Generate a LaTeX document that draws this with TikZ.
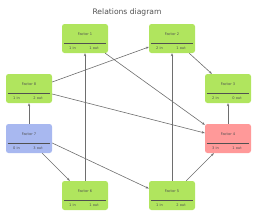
\documentclass[tikz,border=0pt]{standalone}
\usepackage{fontspec}
\setmainfont{DejaVu Sans}
\usetikzlibrary{arrows.meta,positioning}
\definecolor{fgreen}{RGB}{176,229,94}
\definecolor{fblue}{RGB}{168,184,240}
\definecolor{fred}{RGB}{255,153,153}
\definecolor{lgray}{RGB}{110,110,110}
\definecolor{tgray}{RGB}{80,80,80}
\tikzset{
  factor/.style={rounded corners=2.5pt, minimum width=46pt, minimum height=29pt, inner sep=0pt},
  conn/.style={draw=lgray, line width=0.6pt, -{Stealth[length=3pt,width=2.4pt]}},
  lbl/.style={font=\fontsize{3.6}{4}\selectfont, text=tgray, inner sep=0pt},
}
\begin{document}
\begin{tikzpicture}[x=1pt,y=-1pt]
\useasboundingbox (0,0) rectangle (256,215);
\node[font=\fontsize{7.6}{9}\selectfont, text=tgray] (title) at (127,12.5) {Relations diagram};
% boxes
\node[factor, fill=fgreen] (f1) at (85,38.5) {};
\node[factor, fill=fgreen] (f2) at (172,38.5) {};
\node[factor, fill=fgreen] (f8) at (29,88.5) {};
\node[factor, fill=fgreen] (f3) at (228,88.5) {};
\node[factor, fill=fblue]  (f7) at (29,138.5) {};
\node[factor, fill=fred]   (f4) at (228,138.5) {};
\node[factor, fill=fgreen] (f6) at (85,195.5) {};
\node[factor, fill=fgreen] (f5) at (172,195.5) {};
\foreach \n/\t/\a/\b in {f1/1/1 in/1 out, f2/2/2 in/1 out, f3/3/2 in/0 out, f4/4/3 in/1 out, f5/5/1 in/2 out, f6/6/1 in/1 out, f7/7/0 in/3 out, f8/8/1 in/2 out}{
  \node[lbl] (\n t) at ([yshift=-10.5pt]\n.north) {Factor \t};
  \draw[tgray, line width=0.6pt] ([xshift=2pt,yshift=-19pt]\n.north west) -- ([xshift=-2pt,yshift=-19pt]\n.north east);
  \node[lbl] (\n i) at ([xshift=-12.5pt,yshift=5pt]\n.south) {\a};
  \node[lbl] (\n o) at ([xshift=9pt,yshift=5pt]\n.south) {\b};
}
% connectors
\draw[conn] (f6.north) -- (f1.south);
\draw[conn] (f5.north) -- (f2.south);
\draw[conn] (f7.north) -- (f8.south);
\draw[conn] (f4.north) -- (f3.south);
\draw[conn] ([xshift=-3pt]f1.south east) -- ([yshift=-1pt]f4.north west);
\draw[conn] ([yshift=6.5pt]f8.east) -- ([yshift=-8.5pt]f2.west);
\draw[conn] ([yshift=-5.5pt]f8.east) -- ([yshift=5.5pt]f4.west);
\draw[conn] ([xshift=-6pt]f2.south east) -- ([xshift=7pt]f3.north west);
\draw[conn] ([xshift=-10pt]f7.south east) -- ([xshift=8pt]f6.north west);
\draw[conn] ([yshift=-4.5pt]f7.east) -- ([yshift=7pt]f5.west);
\draw[conn] ([xshift=-9pt]f5.north east) -- ([xshift=9pt]f4.south west);
\end{tikzpicture}
\end{document}
